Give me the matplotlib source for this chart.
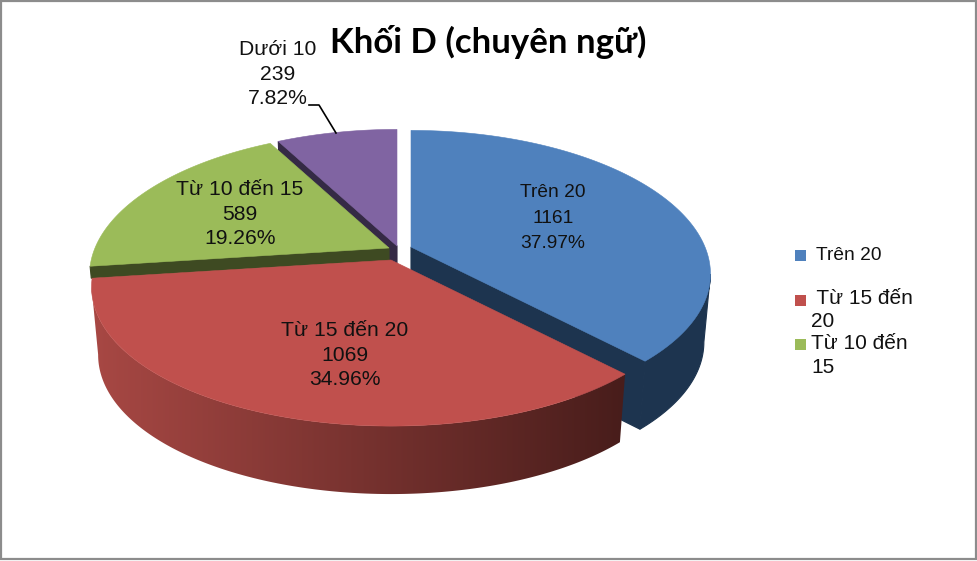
import numpy as np
import matplotlib
matplotlib.use("Agg")
import matplotlib.pyplot as plt
from matplotlib.patches import Polygon, Rectangle

categories = ["Trên 20", "Từ 15 đến 20", "Từ 10 đến 15", "Dưới 10"]
values = [1161, 1069, 589, 239]
percent_labels = ["37.97%", "34.96%", "19.26%", "7.82%"]
title = "Khối D (chuyên ngữ)"
legend_labels = ["Trên 20", " Từ 15 đến\n20", "Từ 10 đến\n15"]

top_colors = ["#4F81BD", "#C0504D", "#9BBB59", "#8064A2"]
wall_colors = ["#1D344F", "#4E1F1D", "#3E4A22", "#352A45"]
apexes = [(411, 247), (391, 260), (389, 248), (397, 246)]
R, H, K, KX = 294.0, 137.0, 0.175, 0.19
DEPTH, SHRINK = 68.0, 0.978

fig = plt.figure(figsize=(9.77, 5.61), dpi=100, facecolor="white")
ax = fig.add_axes([0, 0, 1, 1])
ax.set_xlim(0, 977)
ax.set_ylim(561, 0)
ax.axis("off")
ax.add_patch(Rectangle((0.5, 0.5), 975, 558, fill=False, ec="#8C8C8C", lw=1.6))


def project(theta, r, apex):
    u, v = r * np.sin(theta), r * np.cos(theta)
    return (apex[0] + R * u / (1.0 + KX * v),
            apex[1] - H * v / (1.0 + K * v))


def lower(x, y, apex):
    return apex[0] + (x - apex[0]) * SHRINK, y + DEPTH


fractions = np.array(values, float) / sum(values)
edges = np.concatenate([[0], np.cumsum(fractions)]) * 2 * np.pi


def slice_points(i, n=300):
    t = np.linspace(edges[i], edges[i + 1], n)
    return t, *project(t, 1.0, apexes[i])


def radial_wall(i, theta, depth=DEPTH):
    ap = apexes[i]
    ex, ey = project(theta, 1.0, ap)
    f = depth / DEPTH
    lx = ex + (ap[0] + (ex - ap[0]) * SHRINK - ex) * f
    ax.add_patch(Polygon([ap, (ex, ey), (lx, ey + depth), (ap[0], ap[1] + depth)],
                         fc=wall_colors[i], ec=wall_colors[i], lw=0.8))


def top_face(i):
    _, xs, ys = slice_points(i)
    ax.add_patch(Polygon(np.column_stack([np.r_[apexes[i][0], xs], np.r_[apexes[i][1], ys]]),
                         fc=top_colors[i], ec=top_colors[i], lw=0.4))


def rim_outline(i, start, stop):
    # visible part of the outer wall, between the silhouette points of the rim
    _, xs, ys = slice_points(i)
    lx, ly = lower(xs, ys, apexes[i])
    xs, ys, lx, ly = xs[start:stop], ys[start:stop], lx[start:stop], ly[start:stop]
    return np.column_stack([np.r_[xs, lx[::-1]], np.r_[ys, ly[::-1]]])


def rim_wall(i):
    _, xs, _ = slice_points(i)
    ax.add_patch(Polygon(rim_outline(i, int(np.argmax(xs)), None),
                         fc=wall_colors[i], ec=wall_colors[i], lw=0.8))


def rim_wall_gradient(i, left_rgb, right_rgb, x0, x1):
    _, xs, _ = slice_points(i)
    poly = Polygon(rim_outline(i, None, int(np.argmin(xs)) + 1), fc="none", ec="none")
    ax.add_patch(poly)
    t = np.linspace(0, 1, 256)[None, :, None]
    a, b = np.array(left_rgb) / 255, np.array(right_rgb) / 255
    grad = a[None, None, :] + (b - a)[None, None, :] * t
    img = ax.imshow(grad, extent=(x0, x1, 520, 250), aspect="auto",
                    interpolation="bilinear")
    img.set_clip_path(poly)
    ax.set_xlim(0, 977)
    ax.set_ylim(561, 0)
    return img


# back to front: purple, green, blue, red
radial_wall(3, edges[3])
top_face(3)
radial_wall(2, edges[2], depth=12)
top_face(2)
radial_wall(0, edges[1])
rim_wall(0)
top_face(0)
img = rim_wall_gradient(1, (168, 72, 68), (72, 29, 27), 90, 625)
top_face(1)
for p in ax.patches:
    p.set_zorder(1)
img.set_zorder(1)

pos = [(553, 218), (345, 355), (240, 214), (278, 74)]
sizes = [13.8, 15.2, 15.2, 15.2]
spacings = [1.63, 1.36, 1.36, 1.36]
for cat, val, pct, p, fs, ls in zip(categories, values, percent_labels, pos, sizes, spacings):
    ax.text(p[0], p[1], f"{cat}\n{val}\n{pct}", family="Liberation Sans", fontsize=fs,
            color="#111111", ha="center", va="center", linespacing=ls, zorder=3)

ax.plot([309, 319, 336], [105, 105, 133], color="black", lw=1.2, zorder=3)

ax.text(488, 42, title, family=["Lato", "Noto Sans"], fontweight="bold",
        fontsize=25, ha="center", va="center", color="black", zorder=3)

squares = [(795, 250), (795, 295), (795, 339)]
txt_pos = [(816, 255), (811, 310), (811, 355.5)]
leg_sizes = [13.8, 15, 15]
for c, s, label, t, fs in zip(top_colors, squares, legend_labels, txt_pos, leg_sizes):
    ax.add_patch(Rectangle(s, 11, 11, fc=c, ec="none", zorder=3))
    ax.text(t[0], t[1], label, family="Liberation Sans", fontsize=fs, color="#111111",
            ha="left", va="center", linespacing=1.3, zorder=3)

fig.savefig("out.png", dpi=100)
